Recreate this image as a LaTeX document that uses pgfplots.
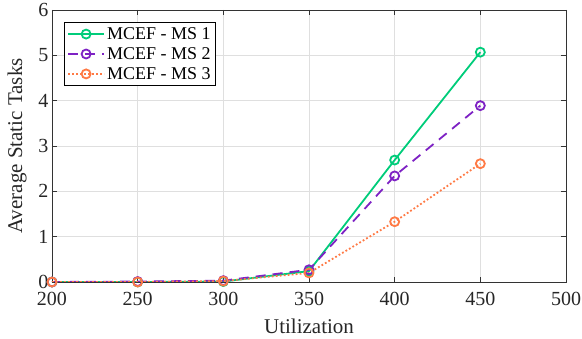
\documentclass[border=0pt]{standalone}
\usepackage{pgfplots}
\pgfplotsset{compat=1.18}
\usetikzlibrary{calc}
\usepackage{fontspec}
\setmainfont{Liberation Serif}
\definecolor{cg}{HTML}{00CC7A}
\definecolor{cp}{HTML}{7E22C4}
\definecolor{co}{HTML}{FF7A45}
\begin{document}
\begin{tikzpicture}
\begin{axis}[
  scale only axis, width=514pt, height=272pt,
  xmin=200, xmax=500, ymin=0, ymax=6,
  xtick={200,250,...,500}, ytick={0,1,...,6},
  /pgf/number format/assume math mode=true,
  tick label style={font=\fontsize{20}{22}\selectfont, color=black!85},
  label style={font=\fontsize{21}{24}\selectfont, color=black!85},
  xticklabel style={anchor=center, yshift=-17pt},
  xlabel={Utilization}, ylabel={Average Static Tasks},
  xlabel style={at={(axis description cs:0.5,0)}, anchor=center, yshift=-44pt},
  ylabel style={at={(axis description cs:0,0.5)}, anchor=center, yshift=35pt},
  grid=major, grid style={gray!25, line width=0.6pt},
  axis line style={black!80, line width=0.8pt},
  tick style={black!80, line width=0.8pt},
  tick align=inside, major tick length=5pt,
  legend style={at={(0.023,0.956)}, anchor=north west, font=\fontsize{18}{21}\selectfont, draw=black, line width=0.8pt, row sep=2.5pt, inner sep=3pt},
  legend cell align=left,
  legend image code/.code={\draw[mark repeat=2,mark phase=2] plot coordinates {(0pt,0pt) (18pt,0pt) (36pt,0pt)};},
  every axis plot/.append style={line width=1.8pt, mark=o, mark size=4.5pt, mark options={solid, line width=1.8pt}},
]
\addplot[cg, solid] coordinates {(200,0) (250,0) (300,0.01) (350,0.24) (400,2.69) (450,5.07)};
\addlegendentry{MCEF - MS 1}
\addplot[cp, dash pattern=on 10pt off 7pt] coordinates {(200,0) (250,0.01) (300,0.03) (350,0.27) (400,2.34) (450,3.89)};
\addlegendentry{MCEF - MS 2}
\addplot[co, dash pattern=on 1.8pt off 2.2pt] coordinates {(200,0) (250,0) (300,0.02) (350,0.2) (400,1.33) (450,2.61)};
\addlegendentry{MCEF - MS 3}
\end{axis}
\pgfresetboundingbox
\path ($(current axis.south west)+(-52pt,-57pt)$) rectangle ($(current axis.north east)+(16pt,10pt)$);
\end{tikzpicture}
\end{document}
